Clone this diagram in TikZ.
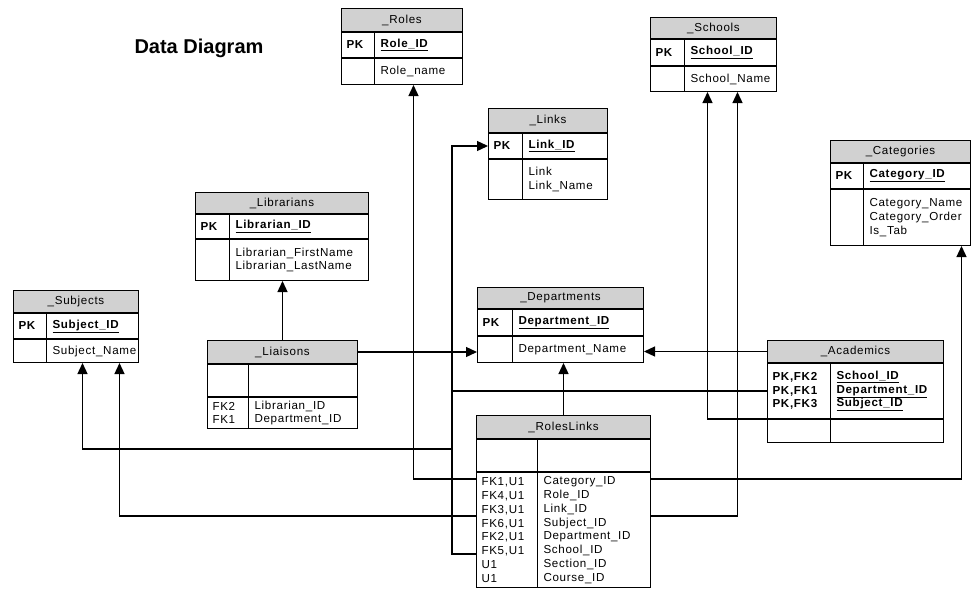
\documentclass[tikz,border=0pt]{standalone}
\usepackage{fontspec}
\setmainfont{Liberation Sans}
\newfontfamily\erfont{Liberation Sans}[LetterSpace=6]
\usepackage{tikz}
\usetikzlibrary{positioning}
\usetikzlibrary{arrows.meta}

\begin{document}
\begin{tikzpicture}[
    x=1pt, y=-1pt,
    line width=1pt,
    font=\erfont\fontsize{11.6}{13.8}\selectfont,
    head/.style={
        draw=black,
        fill=black!18,
        anchor=north west,
        inner sep=0pt
    },
    cell/.style={
        draw=black,
        anchor=north west,
        inner sep=0pt
    },
    lbl/.style={
        anchor=west,
        inner sep=0pt,
        align=left
    },
    link/.style={
        -{Triangle[length=11pt,width=10pt]},
        line width=1.3pt
    }
]
\useasboundingbox (0,0) rectangle (971,589);

\node[anchor=west, inner sep=0pt, font=\normalfont\bfseries\fontsize{20}{24}\selectfont] (title) at (134,48) {Data Diagram};

% _Roles
\node[head, minimum width=121pt, minimum height=23pt] (rolesH) at (341,8) {\_Roles};
\node[cell, minimum width=121pt, minimum height=25pt] (rolesK) at (rolesH.south west) {};
\node[cell, minimum width=121pt, minimum height=26pt] (rolesB) at (rolesK.south west) {};
\draw ([xshift=33pt]rolesK.north west) -- ([xshift=33pt]rolesB.south west);
\node[lbl] (rolesPK) at ([xshift=5pt]rolesK.west) {\textbf{PK}};
\node[lbl] (rolesID) at ([xshift=39pt]rolesK.west) {\textbf{\underline{Role\_ID}}};
\node[lbl] (rolesAt) at ([xshift=39pt]rolesB.west) {Role\_name};

% _Schools
\node[head, minimum width=126pt, minimum height=21pt] (schoolsH) at (650,17) {\_Schools};
\node[cell, minimum width=126pt, minimum height=26pt] (schoolsK) at (schoolsH.south west) {};
\node[cell, minimum width=126pt, minimum height=25pt] (schoolsB) at (schoolsK.south west) {};
\draw ([xshift=34pt]schoolsK.north west) -- ([xshift=34pt]schoolsB.south west);
\node[lbl] (schoolsPK) at ([xshift=5pt]schoolsK.west) {\textbf{PK}};
\node[lbl] (schoolsID) at ([xshift=40pt]schoolsK.west) {\textbf{\underline{School\_ID}}};
\node[lbl] (schoolsAt) at ([xshift=40pt]schoolsB.west) {School\_Name};

% _Links
\node[head, minimum width=119pt, minimum height=24pt] (linksH) at (488,108) {\_Links};
\node[cell, minimum width=119pt, minimum height=25pt] (linksK) at (linksH.south west) {};
\node[cell, minimum width=119pt, minimum height=40pt] (linksB) at (linksK.south west) {};
\draw ([xshift=34pt]linksK.north west) -- ([xshift=34pt]linksB.south west);
\node[lbl] (linksPK) at ([xshift=5pt]linksK.west) {\textbf{PK}};
\node[lbl] (linksID) at ([xshift=40pt]linksK.west) {\textbf{\underline{Link\_ID}}};
\node[lbl] (linksAt) at ([xshift=40pt]linksB.west) {Link\\Link\_Name};

% _Categories
\node[head, minimum width=140pt, minimum height=22pt] (catH) at (830,140) {\_Categories};
\node[cell, minimum width=140pt, minimum height=25pt] (catK) at (catH.south west) {};
\node[cell, minimum width=140pt, minimum height=56pt] (catB) at (catK.south west) {};
\draw ([xshift=33pt]catK.north west) -- ([xshift=33pt]catB.south west);
\node[lbl] (catPK) at ([xshift=5pt]catK.west) {\textbf{PK}};
\node[lbl] (catID) at ([xshift=39pt]catK.west) {\textbf{\underline{Category\_ID}}};
\node[lbl] (catAt) at ([xshift=39pt]catB.west) {Category\_Name\\Category\_Order\\Is\_Tab};

% _Librarians
\node[head, minimum width=173pt, minimum height=21pt] (libH) at (195,192) {\_Librarians};
\node[cell, minimum width=173pt, minimum height=24pt] (libK) at (libH.south west) {};
\node[cell, minimum width=173pt, minimum height=41pt] (libB) at (libK.south west) {};
\draw ([xshift=34pt]libK.north west) -- ([xshift=34pt]libB.south west);
\node[lbl] (libPK) at ([xshift=5pt]libK.west) {\textbf{PK}};
\node[lbl] (libID) at ([xshift=40pt]libK.west) {\textbf{\underline{Librarian\_ID}}};
\node[lbl] (libAt) at ([xshift=40pt]libB.west) {Librarian\_FirstName\\Librarian\_LastName};

% _Subjects
\node[head, minimum width=125pt, minimum height=22pt] (subjH) at (13,290) {\_Subjects};
\node[cell, minimum width=125pt, minimum height=25pt] (subjK) at (subjH.south west) {};
\node[cell, minimum width=125pt, minimum height=23pt] (subjB) at (subjK.south west) {};
\draw ([xshift=33pt]subjK.north west) -- ([xshift=33pt]subjB.south west);
\node[lbl] (subjPK) at ([xshift=5pt]subjK.west) {\textbf{PK}};
\node[lbl] (subjID) at ([xshift=39pt]subjK.west) {\textbf{\underline{Subject\_ID}}};
\node[lbl] (subjAt) at ([xshift=39pt]subjB.west) {Subject\_Name};

% _Liaisons
\node[head, minimum width=150pt, minimum height=23pt] (liaH) at (207,340) {\_Liaisons};
\node[cell, minimum width=150pt, minimum height=32pt] (liaK) at (liaH.south west) {};
\node[cell, minimum width=150pt, minimum height=31pt] (liaB) at (liaK.south west) {};
\draw ([xshift=41pt]liaK.north west) -- ([xshift=41pt]liaB.south west);
\node[lbl] (liaFK) at ([xshift=5pt]liaB.west) {FK2\\FK1};
\node[lbl] (liaAt) at ([xshift=47pt]liaB.west) {Librarian\_ID\\Department\_ID};

% _Departments
\node[head, minimum width=166pt, minimum height=21pt] (deptH) at (477,287) {\_Departments};
\node[cell, minimum width=166pt, minimum height=26pt] (deptK) at (deptH.south west) {};
\node[cell, minimum width=166pt, minimum height=26pt] (deptB) at (deptK.south west) {};
\draw ([xshift=35pt]deptK.north west) -- ([xshift=35pt]deptB.south west);
\node[lbl] (deptPK) at ([xshift=5pt]deptK.west) {\textbf{PK}};
\node[lbl] (deptID) at ([xshift=41pt]deptK.west) {\textbf{\underline{Department\_ID}}};
\node[lbl] (deptAt) at ([xshift=41pt]deptB.west) {Department\_Name};

% _Academics
\node[head, minimum width=176pt, minimum height=22pt] (acadH) at (767,340) {\_Academics};
\node[cell, minimum width=176pt, minimum height=55pt] (acadK) at (acadH.south west) {};
\node[cell, minimum width=176pt, minimum height=23pt] (acadB) at (acadK.south west) {};
\draw ([xshift=63pt]acadK.north west) -- ([xshift=63pt]acadB.south west);
\node[lbl] (acadPK) at ([xshift=5pt]acadK.west) {\textbf{PK,FK2}\\\textbf{PK,FK1}\\\textbf{PK,FK3}};
\node[lbl] (acadID) at ([xshift=69pt]acadK.west) {\textbf{\underline{School\_ID}}\\\textbf{\underline{Department\_ID}}\\\textbf{\underline{Subject\_ID}}};

% _RolesLinks
\node[head, minimum width=174pt, minimum height=23pt] (rlH) at (476,415) {\_RolesLinks};
\node[cell, minimum width=174pt, minimum height=32pt] (rlK) at (rlH.south west) {};
\node[cell, minimum width=174pt, minimum height=115pt] (rlB) at (rlK.south west) {};
\draw ([xshift=61pt]rlK.north west) -- ([xshift=61pt]rlB.south west);
\node[lbl] (rlFK) at ([xshift=5pt]rlB.west) {FK1,U1\\FK4,U1\\FK3,U1\\FK6,U1\\FK2,U1\\FK5,U1\\U1\\U1};
\node[lbl] (rlAt) at ([xshift=67pt]rlB.west) {Category\_ID\\Role\_ID\\Link\_ID\\Subject\_ID\\Department\_ID\\School\_ID\\Section\_ID\\Course\_ID};

% relationships
\draw[link] (liaH.north) -- (liaH.north |- libB.south);
\draw[link] (liaH.east) -- (liaH.east -| deptB.west);
\draw[link] (acadH.west) -- (acadH.west -| deptB.east);
\draw[link] (rlH.north) -- (rlH.north |- deptB.south);
\draw[link] (rlB.north west) ++(0,7) -| ([xshift=11.5pt]rolesB.south);
\draw[link] (rlB.north west) ++(0,82) -- ++(-24,0) |- (linksK.west);
\draw[link] (rlB.north west) ++(0,44) -| ([xshift=43.5pt]subjB.south);
\draw[link] (acadK.west) -| ++(-315,58) -| ([xshift=6.5pt]subjB.south);
\draw[link] (rlB.north east) ++(0,7) -| ([xshift=61pt]catB.south);
\draw[link] (rlB.north east) ++(0,44) -| ([xshift=24pt]schoolsB.south);
\draw[link] (acadK.south west) -| ([xshift=-6pt]schoolsB.south);

\end{tikzpicture}
\end{document}
